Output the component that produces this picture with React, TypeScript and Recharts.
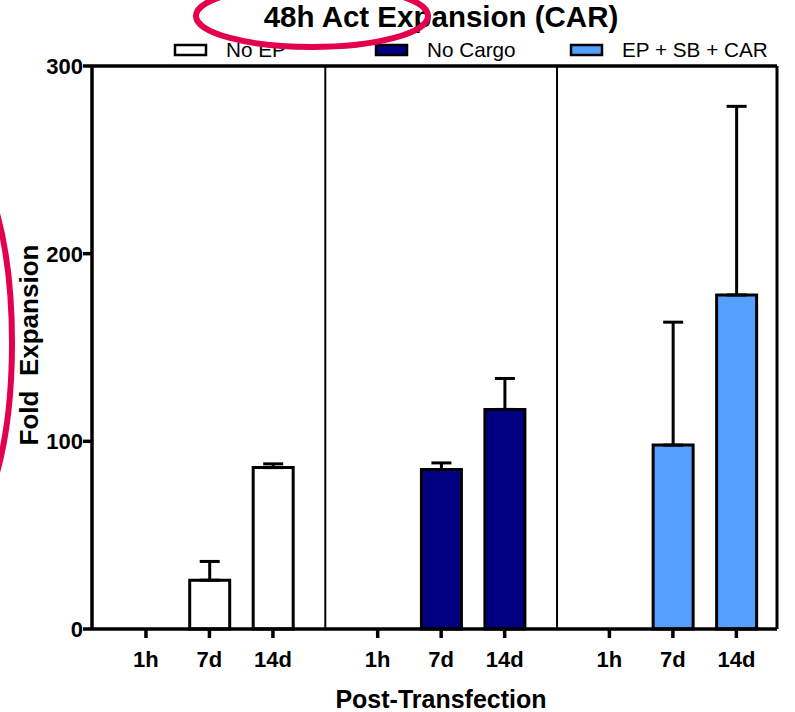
import {
  Bar,
  BarChart,
  Cell,
  ErrorBar,
  ReferenceLine,
  XAxis,
  YAxis,
} from "recharts";

const timepoints = ["1h", "7d", "14d"];
const groupNames = ["No EP", "No Cargo", "EP + SB + CAR"];
const groupColors = ["#ffffff", "#000080", "#55a0ff"];
const noEpMean = [0, 26, 86];
const noEpSd = [0, 10, 2];
const noCargoMean = [0, 85, 117];
const noCargoSd = [0, 3.5, 16.5];
const carMean = [0, 98, 178];
const carSd = [0, 65.5, 100.5];
const yTicks = [0, 100, 200, 300];

// layout of the grouped categorical axis (numeric positions)
const GROUP_STEP = 3.65;
const X_MIN = -0.85;
const X_MAX = 9.94;

const means = [noEpMean, noCargoMean, carMean];
const sds = [noEpSd, noCargoSd, carSd];

const data = means.flatMap((vals, g) =>
  vals.map((v, i) => ({
    pos: g * GROUP_STEP + i,
    label: timepoints[i],
    group: g,
    value: v,
    err: [0, sds[g][i]],
  }))
);

const tickPositions = data.map((d) => d.pos);
const dividers = [0, 1].map((g) => g * GROUP_STEP + 2 + (GROUP_STEP - 2) / 2);

const FONT = "'Liberation Sans', Arial, sans-serif";

const labelFor = (p: number) =>
  data.find((d) => Math.abs(d.pos - p) < 1e-6)?.label ?? "";

function XTick({ x, y, payload }: any) {
  return (
    <text x={x} y={y + 29} textAnchor="middle" fontSize={22} fontWeight={700} fontFamily={FONT} fill="#000">
      {labelFor(payload.value)}
    </text>
  );
}

function YTick({ x, y, payload }: any) {
  return (
    <text x={x} y={y + 8} textAnchor="end" fontSize={22} fontWeight={700} fontFamily={FONT} fill="#000">
      {payload.value}
    </text>
  );
}

export default function App() {
  return (
    <div style={{ position: "absolute", left: 0, top: 0, width: 795, height: 712 }}>
      <BarChart
        width={795}
        height={712}
        data={data}
        margin={{ top: 66, right: 18, bottom: 0, left: 0 }}
      >
        <XAxis
          dataKey="pos"
          type="number"
          domain={[X_MIN, X_MAX]}
          allowDataOverflow
          ticks={tickPositions}
          height={83}
          axisLine={{ stroke: "#000", strokeWidth: 3.5 }}
          tickLine={{ stroke: "#000", strokeWidth: 3.5 }}
          tickSize={9}
          tickMargin={0}
          tick={<XTick />}
        />
        <YAxis
          type="number"
          domain={[0, 300]}
          ticks={yTicks}
          width={92}
          axisLine={{ stroke: "#000", strokeWidth: 3.5 }}
          tickLine={{ stroke: "#000", strokeWidth: 3.5 }}
          tickSize={9}
          tickMargin={0}
          tick={<YTick />}
        />
        <ReferenceLine y={300} stroke="#000" strokeWidth={3.5} />
        <ReferenceLine x={X_MAX} stroke="#000" strokeWidth={3} />
        {dividers.map((x) => (
          <ReferenceLine key={x} x={x} stroke="#000" strokeWidth={2} />
        ))}
        <Bar
          dataKey="value"
          barSize={40}
          stroke="#000"
          strokeWidth={3}
          isAnimationActive={false}
        >
          {data.map((d) => (
            <Cell key={d.pos} fill={groupColors[d.group]} />
          ))}
          <ErrorBar
            dataKey="err"
            direction="y"
            width={10}
            stroke="#000"
            strokeWidth={3}
            isAnimationActive={false}
          />
        </Bar>
      </BarChart>
      <svg
        width={795}
        height={712}
        style={{ position: "absolute", left: 0, top: 0, pointerEvents: "none" }}
        fontFamily={FONT}
      >
        <text x={441} y={27} textAnchor="middle" fontSize={29.5} fontWeight={700}>
          48h Act Expansion (CAR)
        </text>
        {groupNames.map((name, g) => {
          const sx = [175, 376, 571][g];
          return (
            <g key={name}>
              <rect x={sx} y={45} width={31} height={10} fill={groupColors[g]} stroke="#000" strokeWidth={2.5} />
              <text x={sx + 51} y={57} fontSize={20.7}>
                {name}
              </text>
            </g>
          );
        })}
        <text
          transform="translate(38 345) rotate(-90)"
          textAnchor="middle"
          fontSize={26}
          fontWeight={700}
          style={{ whiteSpace: "pre" }}
        >
          {"Fold  Expansion"}
        </text>
        <text x={441} y={708} textAnchor="middle" fontSize={25} fontWeight={700}>
          Post-Transfection
        </text>
        <ellipse cx={312} cy={16} rx={116} ry={31} fill="none" stroke="#e3004f" strokeWidth={6} />
        <ellipse cx={-48} cy={343} rx={60} ry={196} fill="none" stroke="#e3004f" strokeWidth={6} />
      </svg>
    </div>
  );
}
